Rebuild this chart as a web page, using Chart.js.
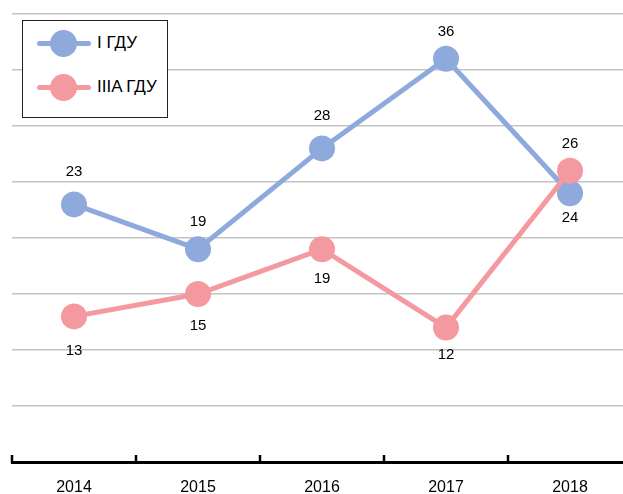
<!DOCTYPE html>
<html>
<head>
<meta charset="utf-8">
<script src="https://cdn.jsdelivr.net/npm/chart.js@4/dist/chart.umd.min.js"></script>
<style>
  html, body { margin: 0; padding: 0; background: #fff; }
  #frame { position: relative; width: 623px; height: 494px; overflow: hidden; }
  #box { position: absolute; left: 0; top: 0; width: 640px; height: 497px; }
  #legend {
    position: absolute; left: 22px; top: 20px; width: 144px; height: 96px;
    border: 1.5px solid #222; background: #fff;
    font-family: "Liberation Sans", Arial, sans-serif; font-size: 17px; color: #000;
  }
  .item { position: absolute; left: 14px; height: 28px; display: flex; align-items: center; }
  .sym { position: relative; width: 54px; height: 28px; margin-right: 6px; }
  .sym .ln { position: absolute; left: 0; right: 0; top: 12px; height: 5px; border-radius: 3px; }
  .sym .dot { position: absolute; left: 13px; top: 1px; width: 27px; height: 27px; border-radius: 50%; }
</style>
</head>
<body>
<div id="frame">
  <div id="box"><canvas id="chart"></canvas></div>
  <div id="legend"></div>
</div>
<script>
// --- DATA ---
const YEARS = ["2014", "2015", "2016", "2017", "2018"];
const SERIES_NAMES = ["I ГДУ", "IIIA ГДУ"];
const VALUES_I = [23, 19, 28, 36, 24];
const VALUES_IIIA = [13, 15, 19, 12, 26];

// label offset from its point, px (negative = above)
const LABEL_DY_I = [-33, -27, -33, -27, 25];
const LABEL_DY_IIIA = [34, 32, 30, 27, -27];

const BLUE = "#8EA9DB";
const PINK = "#F4999F";
const FONT = "'Liberation Sans', Arial, sans-serif";

// value labels next to the points
const valueLabels = {
  id: "valueLabels",
  afterDatasetsDraw(chart) {
    const ctx = chart.ctx;
    const offsets = [LABEL_DY_I, LABEL_DY_IIIA];
    ctx.save();
    ctx.font = "15px " + FONT;
    ctx.fillStyle = "#000";
    ctx.textAlign = "center";
    ctx.textBaseline = "middle";
    chart.data.datasets.forEach((ds, d) => {
      chart.getDatasetMeta(d).data.forEach((pt, i) => {
        ctx.fillText(String(ds.data[i]), pt.x, pt.y + offsets[d][i]);
      });
    });
    ctx.restore();
  }
};

// small upward ticks between the categories on the x axis
const axisTicks = {
  id: "axisTicks",
  afterDraw(chart) {
    const xs = chart.scales.x;
    const ctx = chart.ctx;
    const step = xs.getPixelForValue(1) - xs.getPixelForValue(0);
    ctx.save();
    ctx.strokeStyle = "#000";
    ctx.lineWidth = 2.5;
    for (let i = 0; i <= YEARS.length; i++) {
      const x = Math.round(xs.getPixelForValue(0) - step / 2 + i * step);
      ctx.beginPath();
      ctx.moveTo(x, xs.top + 1);
      ctx.lineTo(x, xs.top - 7);
      ctx.stroke();
    }
    ctx.restore();
  }
};

const chart = new Chart(document.getElementById("chart"), {
  type: "line",
  data: {
    labels: YEARS,
    datasets: [
      {
        label: SERIES_NAMES[0],
        data: VALUES_I,
        borderColor: BLUE,
        backgroundColor: BLUE,
        borderWidth: 5,
        pointRadius: 13,
        pointHoverRadius: 13,
        pointBorderWidth: 0,
        order: 2
      },
      {
        label: SERIES_NAMES[1],
        data: VALUES_IIIA,
        borderColor: PINK,
        backgroundColor: PINK,
        borderWidth: 5,
        pointRadius: 13,
        pointHoverRadius: 13,
        pointBorderWidth: 0,
        order: 1
      }
    ]
  },
  options: {
    responsive: true,
    maintainAspectRatio: false,
    animation: false,
    layout: { autoPadding: false, padding: { left: 12, top: 14, right: 8, bottom: 0 } },
    plugins: {
      legend: { display: false },
      tooltip: { enabled: false }
    },
    scales: {
      x: {
        offset: true,
        grid: { display: false },
        border: { display: true, color: "#000", width: 3 },
        ticks: { color: "#000", font: { family: FONT, size: 16 }, padding: 8 },
        afterFit(scale) { scale.height = 35; }
      },
      y: {
        min: 0,
        max: 40,
        ticks: { stepSize: 5, display: false },
        grid: { color: "#c4c4c4", lineWidth: 1.5, drawTicks: false },
        border: { display: false },
        afterFit(scale) { scale.width = 0; }
      }
    }
  },
  plugins: [valueLabels, axisTicks]
});

// legend box from the datasets
const legend = document.getElementById("legend");
chart.data.datasets.forEach((ds, i) => {
  const item = document.createElement("div");
  item.className = "item";
  item.style.top = (8 + i * 44) + "px";
  item.innerHTML =
    '<div class="sym"><div class="ln" style="background:' + ds.borderColor + '"></div>' +
    '<div class="dot" style="background:' + ds.borderColor + '"></div></div>' +
    '<span>' + ds.label + '</span>';
  legend.appendChild(item);
});
</script>
</body>
</html>
